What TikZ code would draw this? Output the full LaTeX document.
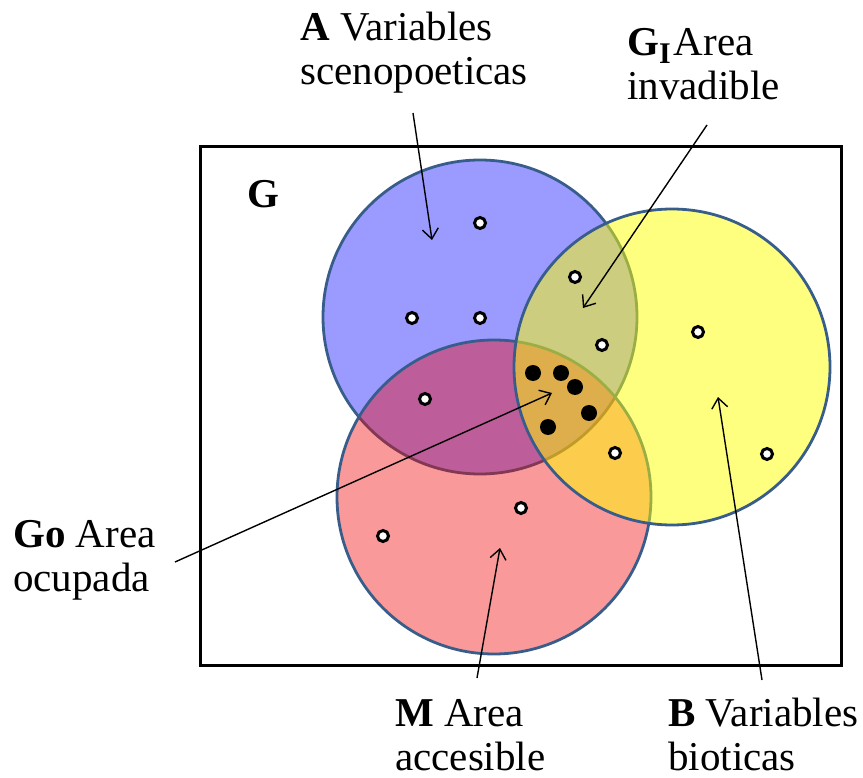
\documentclass[tikz,border=0pt]{standalone}
\usepackage{fontspec}
\setmainfont{Liberation Serif}
\usepackage{tikz}
\usetikzlibrary{arrows.meta}
\definecolor{areaA}{RGB}{155,155,255}
\definecolor{areaM}{RGB}{242,0,0}
\definecolor{areaB}{RGB}{255,255,0}
\definecolor{rim}{RGB}{56,93,138}
\newcommand{\subI}{\raisebox{-8pt}{\fontsize{30}{30}\selectfont I}}

\tikzset{
  zone/.style={circle, draw=rim, line width=2.8pt, minimum size=314pt, inner sep=0pt},
  site/.style={circle, draw=black, fill=white, line width=3pt, minimum size=11pt, inner sep=0pt},
  occ/.style={circle, fill=black, minimum size=16pt, inner sep=0pt},
  lbl/.style={font=\fontsize{41}{44}\selectfont, align=left, anchor=base west, inner sep=0pt},
  pointer/.style={-{Straight Barb[length=10pt,width=16pt]}, line width=1.4pt}
}

\begin{document}
\begin{tikzpicture}[x=1pt, y=-1pt]
    \useasboundingbox (0,0) rectangle (863,778);

    % Frame G
    \draw[line width=3pt] (200,147) rectangle (841,665);
    \node[lbl] (lblG) at (247,208) {\textbf{G}};

    % The three areas
    \node[zone, fill=areaA] (circA) at (480,317) {};
    \node[zone, fill=areaM, fill opacity=0.4] (circM) at (494,497) {};
    \node[zone, fill=areaB, fill opacity=0.5, minimum size=316pt] (circB) at (672,367) {};

    % Sites
    \foreach \p [count=\i] in {(480,223),(412,318),(480,318),(575,277),(602,345),(425,399),
                               (615,453),(698,332),(767,454),(383,536),(521,508)}
        \node[site] (s\i) at \p {};
    \foreach \p [count=\i] in {(533,373),(561,373),(575,387),(589,413),(548,427)}
        \node[occ] (o\i) at \p {};

    % Labels (anchored on the baseline of the last line)
    \node[lbl] (lblA) at (300,85) {\textbf{A} Variables\\scenopoeticas};
    \node[lbl] (lblGI) at (627,100) {\textbf{G\subI}\kern3pt Area\\invadible};
    \node[lbl] (lblGo) at (13,591) {\textbf{Go} Area\\ocupada};
    \node[lbl] (lblM) at (395,770) {\textbf{M} Area\\accesible};
    \node[lbl] (lblB) at (668,770) {\textbf{B} Variables\\bioticas};

    % Pointers
    \coordinate (tailA) at (413,113);   \coordinate (tipA) at (432,240);
    \coordinate (tailGI) at (707,125);  \coordinate (tipGI) at (583,308);
    \coordinate (tailGo) at (175,562);  \coordinate (tipGo) at (552,393);
    \coordinate (tailM) at (477,678);   \coordinate (tipM) at (500,548);
    \coordinate (tailB) at (762,680);   \coordinate (tipB) at (718,397);
    \draw[pointer] (tailA) -- (tipA);
    \draw[pointer] (tailGI) -- (tipGI);
    \draw[pointer] (tailGo) -- (tipGo);
    \draw[pointer] (tailM) -- (tipM);
    \draw[pointer] (tailB) -- (tipB);
\end{tikzpicture}
\end{document}
